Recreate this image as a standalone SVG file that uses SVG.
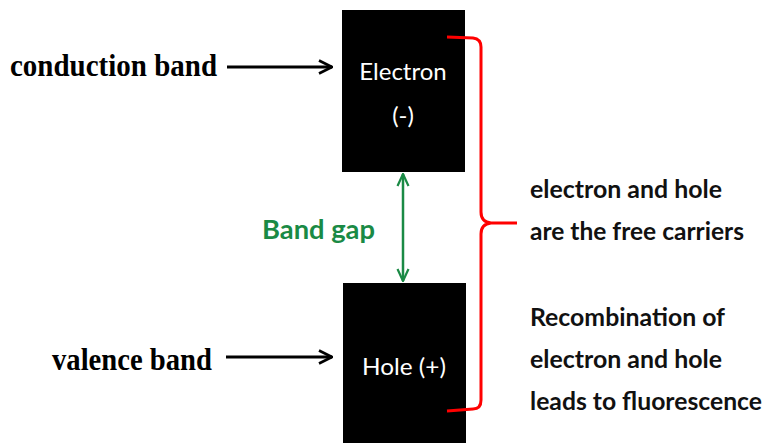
<svg xmlns="http://www.w3.org/2000/svg" width="764" height="443" viewBox="0 0 764 443">
<style>
.lbl{font-family:"Liberation Serif","Times New Roman",serif;font-weight:bold;font-size:31px;fill:#000}
.box{fill:#000}
.boxt{font-family:Lato,"Open Sans",sans-serif;font-size:24px;fill:#fff;text-anchor:middle}
.rt{font-family:Lato,"Open Sans",sans-serif;font-weight:bold;font-size:25px;fill:#111}
.gap{font-family:Lato,"Open Sans",sans-serif;font-weight:bold;font-size:27px;fill:#1a8a45}
.arr{stroke:#000;stroke-width:3;fill:none}
</style>
<defs>
<marker id="open" viewBox="0 0 16 16" refX="15" refY="8" markerWidth="16" markerHeight="16" markerUnits="userSpaceOnUse" orient="auto">
<path d="M2,1.5 L15,8 L2,14.5" fill="none" stroke="#000" stroke-width="2.6"/>
</marker>
<marker id="g" viewBox="0 0 14 14" refX="13" refY="7" markerWidth="14" markerHeight="14" markerUnits="userSpaceOnUse" orient="auto-start-reverse">
<path d="M1,1.5 L13,7 L1,12.5" fill="none" stroke="#1a8a45" stroke-width="2.2"/>
</marker>
</defs>
<rect width="764" height="443" fill="#fff"/>
<g id="electron">
<rect class="box" x="342" y="10" width="123" height="162"/>
<text class="boxt" x="403" y="80">Electron</text>
<text class="boxt" x="403" y="124">(-)</text>
</g>
<g id="hole">
<rect class="box" x="343" y="283" width="123" height="165"/>
<text class="boxt" x="404" y="375" textLength="84" lengthAdjust="spacingAndGlyphs">Hole (+)</text>
</g>
<g id="conduction">
<text class="lbl" x="10" y="76" textLength="207" lengthAdjust="spacingAndGlyphs">conduction band</text>
</g>
<g id="valence">
<text class="lbl" x="52" y="370" textLength="160" lengthAdjust="spacingAndGlyphs">valence band</text>
</g>
<g id="bandgap">
<text class="gap" x="262" y="239" textLength="113" lengthAdjust="spacingAndGlyphs">Band gap</text>
</g>
<g id="carriers">
<text class="rt" x="530" y="198" textLength="192" lengthAdjust="spacingAndGlyphs">electron and hole</text>
<text class="rt" x="530" y="240" textLength="214" lengthAdjust="spacingAndGlyphs">are the free carriers</text>
</g>
<g id="recomb">
<text class="rt" x="530" y="326" textLength="195" lengthAdjust="spacingAndGlyphs">Recombination of</text>
<text class="rt" x="530" y="368" textLength="192" lengthAdjust="spacingAndGlyphs">electron and hole</text>
<text class="rt" x="530" y="410" textLength="232" lengthAdjust="spacingAndGlyphs">leads to fluorescence</text>
</g>
<g id="connectors">
<line class="arr" x1="227" y1="67" x2="332" y2="67" marker-end="url(#open)"/>
<line class="arr" x1="226" y1="357" x2="332" y2="357" marker-end="url(#open)"/>
<line x1="403" y1="174" x2="403" y2="281" stroke="#1a8a45" stroke-width="2.5" marker-start="url(#g)" marker-end="url(#g)"/>
<path d="M447,37 L473,38 Q481,39 481,47 L481,212 Q481,222 491,223 L517,223 M491,223 Q481,224 481,234 L481,400 Q481,409 473,409 L447,411" fill="none" stroke="#f00" stroke-width="3"/>
</g>
</svg>
